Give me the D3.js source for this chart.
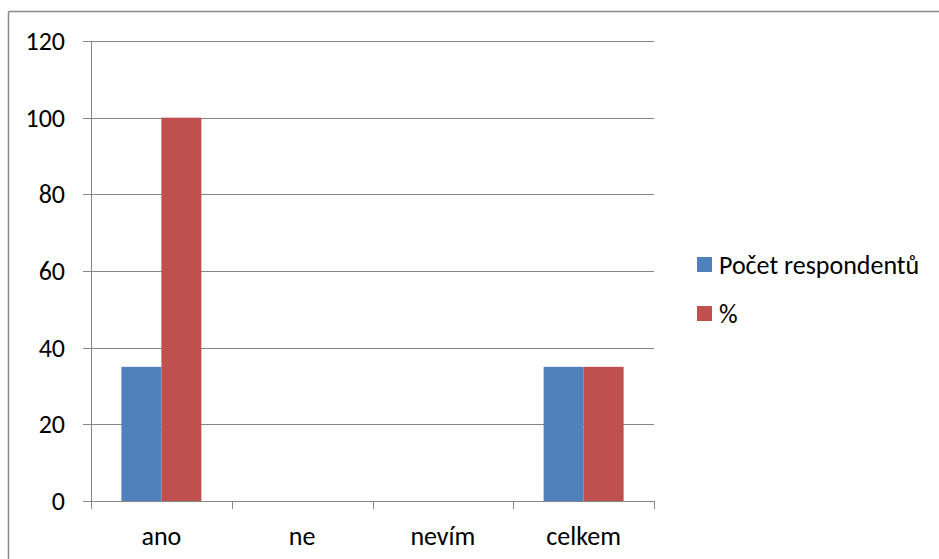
<!DOCTYPE html>
<html>
<head>
<meta charset="utf-8">
<script src="https://cdn.jsdelivr.net/npm/d3@7/dist/d3.min.js"></script>
<style>
  html, body { margin: 0; padding: 0; background: #fff; }
  svg { display: block; font-family: Calibri, Carlito, "Open Sans", "Noto Sans", sans-serif; }
</style>
</head>
<body>
<svg id="chart" width="939" height="559"></svg>
<script>
const categories = ["ano", "ne", "nevím", "celkem"];
const seriesNames = ["Počet respondentů", "%"];
const pocetRespondentu = [35, 0, 0, 35];
const procenta = [100, 0, 0, 35];
const yTicks = [0, 20, 40, 60, 80, 100, 120];
const colors = ["#4f81bd", "#c0504d"];

const svg = d3.select("#chart");
const W = 939, H = 559;

// frame (top and left edges only)
svg.append("line").attr("x1", 8.5).attr("x2", W).attr("y1", 11.5).attr("y2", 11.5)
  .attr("stroke", "#888").attr("stroke-width", 1.5);
svg.append("line").attr("x1", 8.5).attr("x2", 8.5).attr("y1", 11.5).attr("y2", H)
  .attr("stroke", "#888").attr("stroke-width", 1.5);

const plot = { left: 91, right: 654, top: 41, bottom: 501 };

const x = d3.scaleBand().domain(categories).range([plot.left, plot.right]).paddingInner(0).paddingOuter(0);
const x1 = d3.scaleBand().domain(seriesNames).range([0, x.bandwidth()]).paddingInner(0).paddingOuter(0.76);
const y = d3.scaleLinear().domain([0, 120]).range([plot.bottom, plot.top]);

// gridlines
svg.append("g").selectAll("line").data(yTicks).join("line")
  .attr("x1", plot.left - 8).attr("x2", plot.right)
  .attr("y1", d => Math.round(y(d)) + 0.5).attr("y2", d => Math.round(y(d)) + 0.5)
  .attr("stroke", "#868686").attr("stroke-width", 1);

// y axis line
svg.append("line").attr("x1", plot.left + 0.5).attr("x2", plot.left + 0.5)
  .attr("y1", plot.top).attr("y2", plot.bottom)
  .attr("stroke", "#868686");

// y tick labels
svg.append("g").selectAll("text").data(yTicks).join("text")
  .attr("x", 65).attr("y", d => y(d))
  .attr("dy", "0.35em").attr("text-anchor", "end")
  .attr("font-size", 26).attr("fill", "#000")
  .text(d => d);

const series = [pocetRespondentu, procenta];

// bars
const groups = svg.append("g").selectAll("g").data(series).join("g")
  .attr("fill", (d, i) => colors[i]);
groups.selectAll("rect").data((d, i) => d.map((v, j) => ({ v, c: categories[j], s: seriesNames[i] })))
  .join("rect")
  .attr("x", d => x(d.c) + x1(d.s))
  .attr("width", x1.bandwidth())
  .attr("y", d => y(d.v))
  .attr("height", d => y(0) - y(d.v));

// x axis line and ticks
svg.append("line").attr("x1", plot.left).attr("x2", plot.right)
  .attr("y1", plot.bottom + 0.5).attr("y2", plot.bottom + 0.5)
  .attr("stroke", "#868686");
const xTickPos = categories.map(c => x(c)).concat([plot.right]);
svg.append("g").selectAll("line").data(xTickPos).join("line")
  .attr("x1", d => Math.round(d) + 0.5).attr("x2", d => Math.round(d) + 0.5)
  .attr("y1", plot.bottom).attr("y2", plot.bottom + 8)
  .attr("stroke", "#868686");

// x labels
svg.append("g").selectAll("text").data(categories).join("text")
  .attr("x", d => x(d) + x.bandwidth() / 2).attr("y", 536)
  .attr("dy", "0.35em").attr("text-anchor", "middle")
  .attr("font-size", 26).attr("fill", "#000")
  .text(d => d);

// legend
const legend = svg.append("g").selectAll("g").data(seriesNames).join("g")
  .attr("transform", (d, i) => `translate(697, ${257 + i * 49})`);
legend.append("rect").attr("width", 15).attr("height", 15).attr("fill", (d, i) => colors[i]);
legend.append("text").attr("x", 22).attr("y", 8).attr("dy", "0.35em")
  .attr("font-size", 26).attr("fill", "#000").text(d => d);
</script>
</body>
</html>
